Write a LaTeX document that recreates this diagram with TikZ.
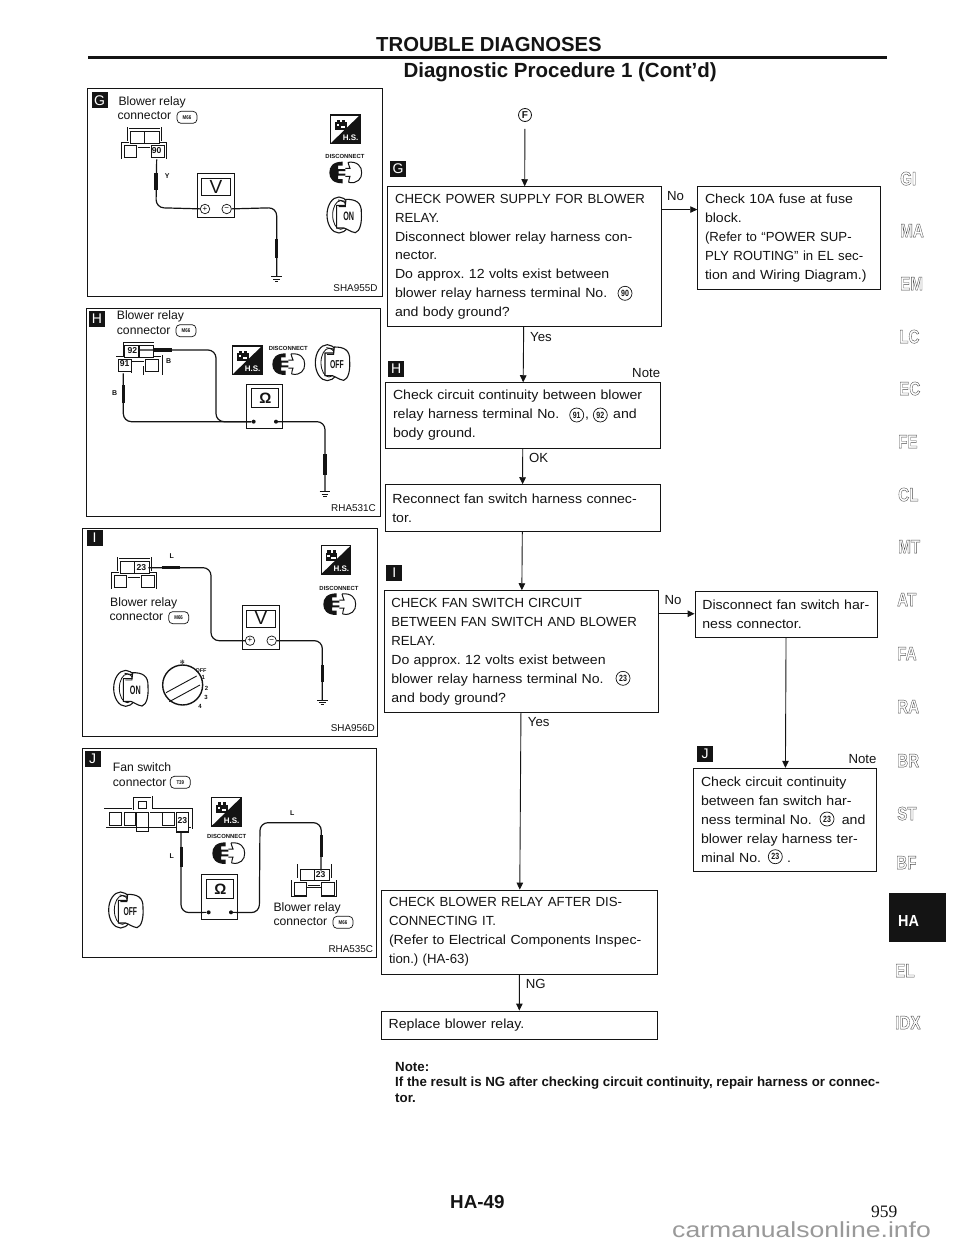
\documentclass[tikz,border=0pt]{standalone}
\usepackage{fontspec}
\setmainfont{Liberation Sans}
\newfontfamily\serifnum{Liberation Serif}
\newfontfamily\dejavu{DejaVu Sans}
\newfontfamily\lcf[FakeStretch=1.07]{Liberation Sans}
\newcommand\Cp[1]{{\rmfamily #1}}
\usetikzlibrary{arrows.meta}
\definecolor{ink}{HTML}{141414}
\newcounter{tnc}
\newcommand\T[4][]{\stepcounter{tnc}\node[lbl,#1] (t\arabic{tnc}) at (#2,#3) {#4};}
\newcommand\FlowBox[6]{%
 \pgfmathsetmacro\bcx{(#2+#4)/2}\pgfmathsetmacro\bcy{(#3+#5)/2}%
 \pgfmathsetmacro\bw{#4-#2}\pgfmathsetmacro\bh{#5-#3}\pgfmathsetmacro\btw{#4-#2-14.6}%
 \node[flowbox,minimum width=\bw pt,minimum height=\bh pt,text width=\btw pt] (#1) at (\bcx,\bcy) {\frenchspacing #6};}
\newcommand\Badge[4]{\T[badge]{#1}{#2}{#3}}
\newcommand\Cnum[3]{\T[cnum]{#1}{#2}{\scalebox{.78}[1]{#3}}}
\newcommand\Oval[3]{\stepcounter{tnc}\node[oval] (t\arabic{tnc}) at (#1,#2) {\scalebox{.8}[1]{#3}};}
\newcommand\Ground[2]{%
 \draw[wire,line width=.9pt] (#1-16,#2) -- (#1+16,#2);
 \draw[wire,line width=.9pt] (#1-10,#2+7) -- (#1+10,#2+7);
 \draw[wire,line width=.9pt] (#1-5,#2+14) -- (#1+5,#2+14);}
\newcommand\HSicon[2]{\begin{scope}[shift={(#1,#2)}]
 \draw[line width=1.1pt,ink] (0,0) rectangle (88,85);
 \fill[ink] (88,0) -- (88,85) -- (0,85) -- cycle;
 \fill[ink] (14,22) rectangle (48,46);\fill[ink] (18,14) rectangle (28,24);\fill[ink] (34,14) rectangle (44,24);
 \fill[white] (18,28) rectangle (26,34);\fill[white] (30,34) rectangle (44,40);
 \T[white,font=\bfseries\fontsize{8}{8}\selectfont]{60}{68}{H.S.}
\end{scope}}
\newcommand\Disc[4]{% label-x label-y plug-x plug-y
 \T[font=\bfseries\fontsize{5.9}{6}\selectfont]{#1}{#2}{DISCONNECT}
 \begin{scope}[shift={(#3,#4)}]
 \fill[ink] (40,0) .. controls (10,0) and (0,15) .. (0,33) .. controls (0,50) and (10,65) .. (40,65) -- (40,52) -- (26,52) -- (26,42) -- (48,42) -- (48,36) -- (28,36) -- (28,28) -- (48,28) -- (48,22) -- (26,22) -- (26,12) -- (40,12) -- cycle;
 \draw[line width=1pt,ink] (56,2) .. controls (84,-2) and (98,15) .. (97,33) .. controls (98,50) and (84,68) .. (58,62);
 \draw[line width=1pt,ink] (56,2) .. controls (60,10) and (58,14) .. (62,20) -- (48,20);
 \draw[line width=1pt,ink] (48,44) -- (62,44) .. controls (58,50) and (60,56) .. (58,62);
 \end{scope}}
\newcommand\IgnKey[4][9]{\begin{scope}[shift={(#2,#3)}]
 \draw[line width=1.1pt,ink] (37,55) ellipse [x radius=36,y radius=54];
 \draw[line width=.8pt,ink] (42,55) ellipse [x radius=24,y radius=43];
 \draw[line width=1.1pt,ink,fill=white] (58,8) .. controls (85,8) and (106,15) .. (104,50) .. controls (106,78) and (100,104) .. (86,108) .. controls (72,106) and (60,96) .. (52,94) -- (30,94) -- (30,26) -- (56,26) -- cycle;
 \draw[line width=.9pt,ink] (34,10) -- (56,14) -- (56,30) -- (36,30);
 \T[font=\bfseries\fontsize{#1}{10}\selectfont]{66}{60}{\scalebox{.8}[1.35]{#4}}
\end{scope}}
\newcommand\RelayConn[2]{\begin{scope}[shift={(#1,#2)}]
 \draw[conn] (23,0) -- (120,0) -- (120,42) -- (140,42) -- (140,97) -- (88,97) -- (88,70) -- (52,70) -- (52,97) -- (0,97) -- (0,42) -- (23,42) -- cycle;
 \draw[thinl] (28,12) rectangle (70,47);\draw[thinl] (72,12) rectangle (115,47);
 \draw[thinl] (10,52) rectangle (48,90);\draw[thinl] (92,52) rectangle (130,90);
 \draw[thinl] (52,60) -- (88,60);
\end{scope}}
\newcommand\MeterV[4]{\begin{scope}[shift={(#1,#2)}]
 \draw[thinl,line width=.8pt] (0,0) rectangle (110,133);
 \draw[thinl,line width=.9pt] (12,15) rectangle (99,67);
 \T[font=\fontsize{19}{19}\selectfont]{55}{40}{V}
 \node[term] (#3) at (22,107) {\fontsize{8}{8}\selectfont +};
 \node[term] (#4) at (87,107) {\fontsize{8}{8}\selectfont −};
\end{scope}}
\newcommand\MeterO[4]{\begin{scope}[shift={(#1,#2)}]
 \draw[thinl,line width=.8pt] (0,0) rectangle (108,133);
 \draw[thinl,line width=.9pt] (14,13) rectangle (95,70);
 \T[font=\bfseries\fontsize{15}{15}\selectfont]{56}{43}{Ω}
 \node[dot] (#3) at (21,113) {};
 \node[dot] (#4) at (88,113) {};
\end{scope}}
\tikzset{
 lbl/.style={inner sep=0pt,text=ink,font=\fontsize{12.2}{14}\selectfont},
 lw/.style={lbl,anchor=mid west,yshift=-1.5pt},
 le/.style={lbl,anchor=mid east,yshift=-1.5pt},
 code/.style={le,font=\fontsize{9.9}{11}\selectfont},
 flowbox/.style={draw=ink,line width=.9pt,rectangle,inner xsep=7.3pt,inner ysep=0pt,align=left,text=ink,font=\lcf\fontsize{13.2}{18.9}\selectfont},
 flowarrow/.style={draw=ink,line width=.9pt,-{Triangle[length=7pt,width=6.5pt]}},
 panel/.style={draw=ink,line width=.9pt},
 badge/.style={fill=ink,text=white,minimum size=16pt,font=\fontsize{14}{14}\selectfont},
 cnum/.style={draw=ink,circle,line width=.7pt,minimum size=14pt,font=\bfseries\fontsize{9}{9}\selectfont},
 oval/.style={draw=ink,rounded corners=4pt,line width=.7pt,inner sep=1.2pt,minimum width=20pt,minimum height=12pt,text=ink,font=\bfseries\fontsize{5.5}{6}\selectfont},
 wire/.style={draw=ink,line width=1.2pt,rounded corners=8pt},
 probe/.style={draw=ink,line width=3.4pt},
 conn/.style={draw=ink,line width=.45pt,double=white,double distance=1.1pt},
 thinl/.style={draw=ink,line width=.5pt},
 term/.style={draw=ink,circle,line width=.7pt,fill=white,inner sep=0pt,minimum size=9.5pt},
 dot/.style={fill=ink,circle,inner sep=0pt,minimum size=4pt},
 side/.style={inner sep=0pt,anchor=mid west,yshift=-3.5pt,font=\bfseries\fontsize{19}{19}\selectfont,text=black!70},
 num/.style={lbl,font=\bfseries\fontsize{8.6}{9}\selectfont},
 tiny/.style={lbl,font=\bfseries\fontsize{7}{7}\selectfont},
}
\newcommand\Side[3]{\T[side]{#1}{#2}{\special{pdf:code 1 Tr 0.4 w}\scalebox{.8}[1]{#3}\special{pdf:code 0 Tr 1 w}}}
\begin{document}
\begin{tikzpicture}[x=1pt,y=-1pt]
\useasboundingbox (0,0) rectangle (960,1242);
\fill[white] (0,0) rectangle (960,1242);
% header
\T[lw,font=\bfseries\fontsize{20.3}{21}\selectfont]{376}{47}{TROUBLE DIAGNOSES}
\draw[ink,line width=3pt] (88,57) -- (887,57);
\T[lw,font=\bfseries\fontsize{20.5}{21}\selectfont]{403.3}{73.7}{Diagnostic Procedure 1 (Cont’d)}
% flow
\node[draw=ink,circle,line width=.8pt,inner sep=0pt,minimum size=13pt,text=ink,font=\bfseries\fontsize{10}{10}\selectfont] (F) at (525,115) {F};
\Badge{398}{169}{G}{}
\Badge{396.3}{368.7}{H}{}
\Badge{394.3}{573}{I}{}
\Badge{705}{754}{J}{}
\FlowBox{gbox}{387.7}{186.7}{661}{326.7}{\Cp{CHECK POWER SUPPLY FOR BLOWER}\\\Cp{RELAY.}\\Disconnect blower relay harness con-\\nector.\\Do approx. 12 volts exist between\\blower relay harness terminal No.\\and body ground?}
\FlowBox{fuse}{697.7}{186.7}{880}{289}{Check 10A fuse at fuse\\block.\\\Cp{(Refer to “POWER SUP-}\\\Cp{PLY ROUTING” in EL sec-}\\tion and Wiring Diagram.)}
\FlowBox{hbox}{385.7}{382.7}{660}{448}{Check circuit continuity between blower\\relay harness terminal No.\hspace{26pt},\hspace{24pt}and\\body ground.}
\FlowBox{recon}{385}{484.7}{660}{531.7}{Reconnect fan switch harness connec-\\tor.}
\FlowBox{ibox}{384}{590.7}{658.7}{712.7}{\Cp{CHECK FAN SWITCH CIRCUIT}\\\Cp{BETWEEN FAN SWITCH AND BLOWER}\\\Cp{RELAY.}\\Do approx. 12 volts exist between\\blower relay harness terminal No.\\and body ground?}
\FlowBox{disc}{695}{591}{877.3}{637.3}{Disconnect fan switch har-\\ness connector.}
\FlowBox{jbox}{693.7}{768.3}{876.7}{871.7}{Check circuit continuity\\between fan switch har-\\ness terminal No.\hspace{30pt}and\\blower relay harness ter-\\minal No.\hspace{26pt}.}
\FlowBox{chk}{381.7}{890}{657.3}{974}{\Cp{CHECK BLOWER RELAY AFTER DIS-}\\\Cp{CONNECTING IT.}\\(Refer to Electrical Components Inspec-\\\Cp{tion.) (HA-63)}}
\FlowBox{repl}{381.3}{1011}{657.3}{1039.3}{Replace blower relay.}
\Cnum{625}{293.3}{90}
\Cnum{576.7}{415}{91}
\Cnum{600.3}{415}{92}
\Cnum{623}{678.3}{23}
\Cnum{827}{819}{23}
\Cnum{775.3}{856.7}{23}
\draw[flowarrow,shorten <=7pt] (F) -- (gbox);
\draw[flowarrow] (gbox) -- (hbox);
\draw[flowarrow] (hbox) -- (recon);
\draw[flowarrow] (recon) -- (ibox);
\draw[flowarrow] (ibox) -- (chk);
\draw[flowarrow] (chk) -- (repl);
\draw[flowarrow] (disc) -- (jbox);
\draw[flowarrow] ([yshift=-23.3pt]gbox.north east) -- ([yshift=-23.3pt]fuse.north west);
\draw[flowarrow] ([yshift=-23.5pt]ibox.north east) -- ([yshift=-23.2pt]disc.north west);
\tikzset{lbl/.append style={font=\fontsize{13.2}{15}\selectfont}}
\T[lw]{667}{196}{No}
\T[lw]{530}{337}{Yes}
\T[le]{660.3}{373}{Note}
\T[lw]{529}{458}{OK}
\T[lw]{664.3}{600.7}{No}
\T[lw]{527.7}{722.7}{Yes}
\T[le]{876.7}{759.3}{Note}
\T[lw]{525.7}{984.3}{NG}
\tikzset{lbl/.append style={font=\fontsize{12.2}{14}\selectfont}}
\T[lw,font=\bfseries\fontsize{13.3}{14}\selectfont]{395}{1067}{Note:}
\T[lw,font=\bfseries\fontsize{13.3}{14}\selectfont]{395}{1082.7}{If the result is NG after checking circuit continuity, repair harness or connec-}
\T[lw,font=\bfseries\fontsize{13.3}{14}\selectfont]{395}{1098.3}{tor.}
% footer
\T[lw,font=\bfseries\fontsize{18.8}{19}\selectfont]{450}{1204}{HA-49}
\T[lw,font=\serifnum\fontsize{17.5}{18}\selectfont]{871}{1213}{959}
\T[lw,text={rgb,255:red,153;green,153;blue,153},font=\fontsize{21.8}{22}\selectfont]{672}{1233.5}{\scalebox{1.22}[1]{carmanualsonline.info}}
% side tabs
\Side{900}{179}{GI}
\Side{900}{231}{MA}
\Side{900}{284}{EM}
\Side{899}{337}{LC}
\Side{899}{389}{EC}
\Side{898}{442}{FE}
\Side{898}{495}{CL}
\Side{898}{547}{MT}
\Side{897}{600}{AT}
\Side{897}{654}{FA}
\Side{897}{707}{RA}
\Side{897}{761}{BR}
\Side{897}{814}{ST}
\Side{896}{863}{BF}
\fill[ink] (889.3,893.3) rectangle (946,941.7);
\T[lw,text=white,font=\bfseries\fontsize{16}{16}\selectfont]{898}{922}{\scalebox{.9}[1]{HA}}
\Side{895}{971}{EL}
\Side{895}{1023}{IDX}
%%%%% panels G, H
\begin{scope}[xshift=80pt,yshift=-80pt,x=.33333pt,y=-.33333pt]
\draw[panel] (22,26) rectangle (906,650);
\Badge{59}{61}{G}{}
\T[lw]{115}{63}{Blower relay}
\T[lw]{112}{107}{connector}
\Oval{321}{112}{M66}
\RelayConn{122}{143}
\T[num]{230}{213}{90}
\HSicon{752}{105}
\Disc{795}{228}{748}{245}
\IgnKey{740}{350}{ON}
\MeterV{353}{280}{gp}{gm}
\coordinate (g90) at (230,238);
\coordinate (gg) at (590,590);
\draw[wire] (g90) -- (228,383) -- (gp);
\draw[probe] (228,280) -- (228,330);
\draw[wire] (gm) -- (590,383) -- (gg);
\draw[probe] (590,478) -- (590,535);
\Ground{590}{590}
\T[tiny]{262}{288}{Y}
\T[code]{893}{622}{SHA955D}
% H
\draw[panel] (20,685) rectangle (902,1308);
\Badge{51}{717}{H}{}
\T[lw]{110}{707}{Blower relay}
\T[lw]{110}{750}{connector}
\Oval{318}{752}{M66}
\RelayConn{105}{785}
\T[num]{157}{812}{92}
\T[num]{134}{851}{91}
\HSicon{458}{798}
\Disc{625}{804}{577}{820}
\IgnKey[8.5]{705}{793}{OFF}
\MeterO{500}{912}{hl}{hr}
\coordinate (h92) at (175,810);
\coordinate (h91) at (130,880);
\coordinate (hg) at (735,1235);
\draw[wire] (h92) -- (408,810) -- (408,1025) -- (hl);
\draw[probe] (220,810) -- (275,810);
\draw[wire] (h91) -- (130,1025) -- (hl);
\draw[probe] (130,915) -- (130,970);
\draw[wire] (hr) -- (735,1025) -- (hg);
\draw[probe] (735,1122) -- (735,1185);
\Ground{735}{1235}
\T[tiny]{266}{842}{B}
\T[tiny]{104}{940}{B}
\T[code]{888}{1283}{RHA531C}
\end{scope}
%%%%% panels I, J
\begin{scope}[xshift=80pt,yshift=-520pt,x=.33333pt,y=-.33333pt]
\draw[panel] (8,26) rectangle (892,650);
\Badge{44}{54}{I}{}
\RelayConn{92}{113}
\T[num]{184}{142}{23}
\T[lw]{90}{246}{Blower relay}
\T[lw]{88}{290}{connector}
\Oval{296}{293}{M66}
\HSicon{724}{77}
\Disc{777}{204}{730}{220}
\IgnKey{100}{450}{ON}
\MeterV{488}{255}{ip}{im}
\coordinate (i23) at (205,143);
\coordinate (ig) at (727,540);
\draw[wire] (i23) -- (393,143) -- (393,362) -- (ip);
\draw[probe] (245,143) -- (300,143);
\draw[wire] (im) -- (727,362) -- (ig);
\draw[probe] (727,435) -- (727,487);
\Ground{727}{540}
\T[tiny]{275}{108}{L}
% dial
\draw[ink,line width=1.4pt] (308,495) circle (60);
\draw[thinl,line width=.9pt] (258,518) -- (350,468);
\draw[thinl,line width=.9pt] (268,545) -- (360,495);
\T[font=\dejavu\fontsize{6}{6}\selectfont]{307}{428}{✻}
\T[font=\bfseries\fontsize{5.5}{6}\selectfont]{363}{452}{OFF}
\T[font=\bfseries\fontsize{6}{6}\selectfont]{370}{472}{1}
\T[font=\bfseries\fontsize{6}{6}\selectfont]{380}{505}{2}
\T[font=\bfseries\fontsize{6}{6}\selectfont]{378}{533}{3}
\T[font=\bfseries\fontsize{6}{6}\selectfont]{360}{558}{4}
\T[code]{885}{622}{SHA956D}
% J
\draw[panel] (6,685) rectangle (890,1312);
\Badge{38}{716}{J}{}
\T[lw]{98}{743}{Fan switch}
\T[lw]{98}{787}{connector}
\Oval{301}{787}{T39}
\draw[conn] (75,868) -- (158,868) -- (158,830) -- (215,830) -- (215,868) -- (335,868) -- (335,925) -- (330,925) -- (330,940) -- (285,940) -- (285,925) -- (75,925) -- cycle;
\draw[thinl] (87,878) rectangle (125,915);\draw[thinl] (133,878) rectangle (165,915);\draw[thinl] (168,878) rectangle (205,935);
\draw[thinl] (175,845) rectangle (198,865);\draw[thinl] (210,878) -- (250,878);\draw[thinl] (248,878) rectangle (283,915);\draw[thinl] (288,878) rectangle (326,933);
\T[num]{307}{903}{23}
\HSicon{395}{833}
\Disc{440}{948}{397}{967}
\IgnKey[8.5]{85}{1115}{OFF}
\MeterO{365}{1064}{jl}{jr}
\RelayConn{632}{1035}
\T[num]{722}{1065}{23}
\coordinate (j23a) at (303,938);
\coordinate (j23b) at (723,1052);
\draw[wire] (j23a) -- (303,1178) -- (jl);
\draw[probe] (305,980) -- (305,1040);
\draw[wire] (jr) -- (538,1178) -- (540,908) -- (724,908) -- (j23b);
\draw[probe] (724,945) -- (724,1010);
\T[tiny]{637}{880}{L}
\T[tiny]{275}{1007}{L}
\T[lw]{580}{1162}{Blower relay}
\T[lw]{580}{1205}{connector}
\Oval{789}{1207}{M66}
\T[code]{880}{1285}{RHA535C}
\end{scope}
\end{tikzpicture}
\end{document}
